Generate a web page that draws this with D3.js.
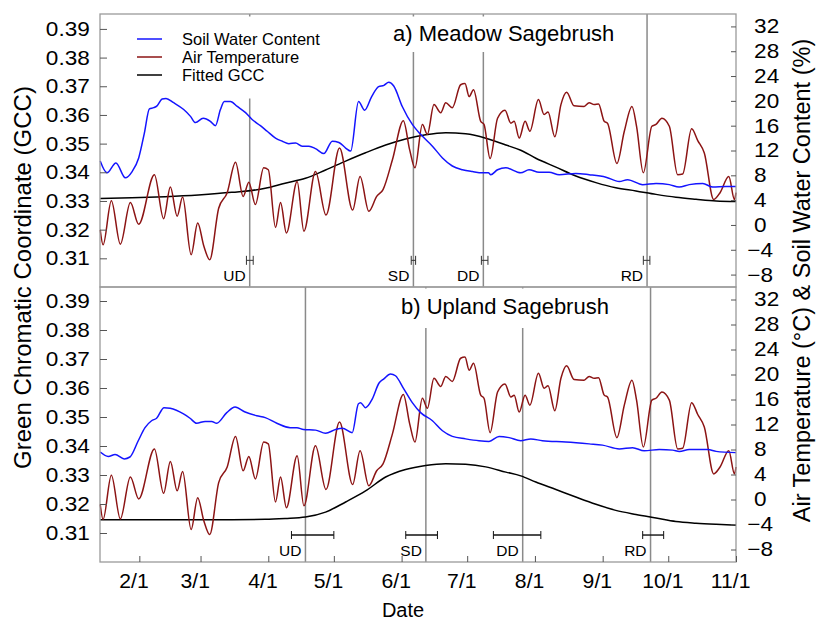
<!DOCTYPE html>
<html>
<head>
<meta charset="utf-8">
<script src="https://cdn.jsdelivr.net/npm/d3@7"></script>
<style>
  body { margin: 0; background: #fff; }
  svg { font-family: "Liberation Sans", Arial, sans-serif; }
</style>
</head>
<body>
<div id="chart"></div>
<script>
// Day of year (2015) and values

// Air temperature (same station for both panels), deg C
var tempDay = [14.1, 15.4, 19.2, 23.3, 27.9, 31.7, 38.9, 43.1, 46.2, 49.3, 51.8, 55.7, 58.7, 61.5, 64.2, 68.3, 72.2, 76.0, 79.5, 82.1,
  85.1, 88.9, 91.0, 94.3, 96.6, 99.3, 104.2, 107.3, 112.6, 117.4, 123.6, 129.6, 133.0, 137.0, 140.6, 143.5, 147.8, 152.8, 155.7, 158.1,
  161.5, 163.8, 166.8, 169.9, 172.2, 175.2, 179.0, 181.0, 182.9, 184.9, 188.2, 189.7, 192.5, 195.9, 199.3, 202.0, 203.5, 205.8, 208.5, 210.7,
  214.6, 217.2, 219.0, 222.1, 224.9, 227.5, 230.9, 235.5, 237.8, 240.1, 242.1, 244.7, 246.2, 250.5, 253.9, 257.4, 259.5, 262.6, 266.5, 268.4,
  271.1, 274.5, 278.3, 280.6, 284.7, 287.5, 290.5, 294.8, 297.7, 301.7, 304.3, 305];
var tempVal = [-0.8, -3.2, 3.9, -3.1, 3.6, 0.1, 8.1, 1.0, 6.1, 1.4, 4.5, -4.8, 0.3, -3.4, -5.6, 2.7, 5.2, 10.1, 4.6, 6.9,
  3.3, 9.2, 8.9, -0.4, 3.6, -1.3, 7.0, -1.0, 8.6, 1.6, 12.4, 2.4, 7.8, 2.2, 4.6, 5.7, 10.5, 16.8, 12.1, 9.2,
  16.2, 14.6, 19.4, 18.1, 19.7, 18.9, 22.6, 22.8, 20.7, 21.8, 16.7, 16.2, 10.7, 17.2, 18.5, 16.4, 16.7, 14.0, 16.7, 15.1,
  20.2, 17.8, 18.2, 14.2, 19.4, 21.4, 19.2, 19.1, 19.7, 19.4, 19.5, 16.7, 16.4, 9.9, 15.1, 19.1, 15.9, 8.4, 15.9, 16.2,
  17.2, 15.9, 8.1, 8.2, 15.5, 13.6, 11.6, 4.1, 5.2, 7.8, 4.1, 5.2];

// Soil water content, meadow (%)
var swcMeadowDay = [14.1, 17.2, 21.3, 25.6, 28.7, 31.7, 34.3, 36.6, 38.6, 40.1, 42.4, 44.2, 47.7, 52.3, 55.4, 57.7, 61.2, 64.5, 66.8, 69.1,
  70.9, 73.7, 76.8, 80.6, 83.6, 87.4, 90.5, 94.3, 97.4, 100.4, 103.5, 106.5, 109.6, 112.6, 116.4, 120.3, 123.3, 126.4, 128.7, 132.3,
  135.1, 138.3, 141.5, 143.9, 146.1, 148.4, 152.3, 156.9, 160.7, 166.1, 170.7, 175.2, 179.8, 184.4, 189.0, 191.7, 192.8, 195.9, 199.7, 206.5,
  210.3, 214.9, 219.5, 224.1, 231.7, 237.8, 245.5, 251.6, 255.4, 262.3, 268.4, 274.5, 279.0, 283.6, 289.8, 294.3, 300.4, 305];
var swcMeadowVal = [10.3, 8.4, 10.0, 7.6, 8.6, 10.8, 14.8, 18.7, 18.9, 19.2, 20.3, 20.4, 19.7, 18.6, 17.5, 16.5, 17.2, 16.7, 16.0, 18.6,
  19.9, 19.9, 19.1, 18.1, 17.0, 16.0, 15.1, 14.0, 13.5, 13.1, 13.2, 12.7, 12.7, 12.3, 11.5, 13.5, 13.3, 12.4, 11.9, 19.9,
  18.5, 20.7, 22.3, 22.5, 23.0, 22.4, 19.1, 16.2, 14.6, 12.7, 10.8, 9.5, 8.9, 8.6, 8.4, 8.4, 8.1, 8.9, 9.2, 8.4,
  8.9, 8.5, 8.5, 8.1, 8.3, 8.1, 7.7, 7.0, 7.3, 6.5, 6.7, 6.5, 6.1, 6.5, 6.7, 6.1, 6.2, 6.2];

// Soil water content, upland (%)
var swcUplandDay = [14.1, 17.8, 20.9, 25.1, 27.7, 31.5, 34.6, 37.6, 39.9, 43.3, 46.1, 52.2, 55.2, 58.2, 62.1, 65.1, 67.4, 72.0, 75.8, 80.4,
  85.7, 89.6, 94.9, 101.0, 104.1, 107.1, 112.6, 117.2, 121.8, 124.9, 129.4, 132.2, 133.2, 135.5, 138.6, 141.6, 143.9, 146.9, 149.2, 153.0,
  156.9, 160.7, 166.1, 170.7, 175.2, 181.3, 187.4, 192.0, 196.6, 201.2, 206.5, 211.1, 216.4, 227.1, 237.8, 243.9, 251.6, 257.7, 263.0, 269.9,
  276.0, 279.1, 283.6, 292.1, 295.9, 305];
var swcUplandVal = [7.6, 6.9, 7.2, 6.5, 6.8, 9.4, 11.5, 12.6, 13.0, 14.7, 14.6, 13.7, 13.0, 12.2, 12.5, 12.5, 12.2, 13.9, 14.8, 14.0,
  13.4, 13.1, 12.2, 11.5, 11.5, 11.2, 11.1, 10.6, 11.2, 11.4, 10.7, 15.3, 15.5, 14.7, 16.1, 18.6, 19.3, 20.1, 19.8, 17.7,
  15.5, 13.9, 12.6, 11.0, 10.1, 9.7, 9.4, 9.3, 10.1, 9.9, 9.4, 9.7, 9.4, 9.2, 8.9, 8.7, 8.1, 8.3, 7.8, 8.0,
  7.9, 7.7, 8.0, 8.0, 7.7, 7.5];

// Fitted GCC
var gccDay = [14.1, 28.5, 43.8, 59.0, 74.3, 89.6, 98.7, 108.0, 117.2, 126.4, 135.5, 144.7, 153.8, 163.0, 172.2,
  181.3, 190.5, 199.7, 206.5, 213.4, 222.6, 231.7, 240.9, 250.0, 259.2, 268.4, 277.5, 286.7, 295.9, 305];
var gccMeadow = [0.3309, 0.3311, 0.3315, 0.3321, 0.3330, 0.3344, 0.3362, 0.3379, 0.3408, 0.3439, 0.3468, 0.3495, 0.3516, 0.3531, 0.3538,
  0.3534, 0.3519, 0.3495, 0.3477, 0.3449, 0.3418, 0.3387, 0.3364, 0.3346, 0.3335, 0.3323, 0.3313, 0.3306, 0.3300, 0.3298];
var gccUpland = [0.3146, 0.3146, 0.3146, 0.3146, 0.3146, 0.3147, 0.3150, 0.3155, 0.3172, 0.3207, 0.3245, 0.3293, 0.3319, 0.3333, 0.3339,
  0.3337, 0.3328, 0.3310, 0.3297, 0.3276, 0.3250, 0.3224, 0.3199, 0.3178, 0.3164, 0.3152, 0.3140, 0.3134, 0.3130, 0.3127];

// Phenology dates (day of year) with uncertainty range
var phenoLabels = ['UD', 'SD', 'DD', 'RD'];
var meadowDate = [82.5, 157.4, 189.4, 264.3];
var meadowLo = [81.0, 156.4, 188.5, 262.6];
var meadowHi = [84.1, 158.4, 191.5, 265.6];
var uplandDate = [108.0, 163.1, 207.4, 265.9];
var uplandLo = [101.6, 153.9, 194.0, 262.3];
var uplandHi = [121.0, 168.4, 215.7, 271.9];

// Axis ticks
var gccTicks = [0.31, 0.32, 0.33, 0.34, 0.35, 0.36, 0.37, 0.38, 0.39];
var rightTicks = [-8, -4, 0, 4, 8, 12, 16, 20, 24, 28, 32];
var monthDays = [32, 60, 91, 121, 152, 182, 213, 244, 274, 305];
var monthLabels = ['2/1', '3/1', '4/1', '5/1', '6/1', '7/1', '8/1', '9/1', '10/1', '11/1'];

var blue = '#1414ff', red = '#8c1414', frameColor = '#9a9a9a';

var svg = d3.select('#chart').append('svg')
  .attr('width', 816)
  .attr('height', 621);

var x = d3.scaleLinear().domain([14, 305]).range([100, 736]);

var panels = [
  { top: 14, bottom: 287, gccMax: 0.3952, title: 'a) Meadow Sagebrush', titleX: 393, titleY: 41,
    box: [386, 16.5, 236, 35.5], gcc: gccMeadow, swcDay: swcMeadowDay, swcVal: swcMeadowVal,
    date: meadowDate, lo: meadowLo, hi: meadowHi, cap: 4.5, barW: 1, barColor: '#333' },
  { top: 287, bottom: 562, gccMax: 0.39483, title: 'b) Upland Sagebrush', titleX: 401, titleY: 314,
    box: [395, 288.5, 222, 39.5], gcc: gccUpland, swcDay: swcUplandDay, swcVal: swcUplandVal,
    date: uplandDate, lo: uplandLo, hi: uplandHi, cap: 4, barW: 1.4, barColor: '#111' }
];

panels.forEach(function(p, pi) {
  var yL = d3.scaleLinear().domain([0.30, p.gccMax]).range([p.bottom, p.top]);
  var yR = d3.scaleLinear().domain([-10, 34]).range([p.bottom, p.top]);
  var g = svg.append('g');

  // phenology lines
  g.selectAll('.pheno')
    .data(p.date)
    .enter()
    .append('line')
    .attr('x1', function(d) { return x(d); })
    .attr('x2', function(d) { return x(d); })
    .attr('y1', p.top)
    .attr('y2', p.bottom)
    .attr('stroke', '#8a8a8a')
    .attr('stroke-width', 1.5);

  // white boxes behind title / legend
  g.append('rect')
    .attr('x', p.box[0]).attr('y', p.box[1])
    .attr('width', p.box[2]).attr('height', p.box[3])
    .attr('fill', '#fff');
  if (pi === 0) {
    g.append('rect')
      .attr('x', 128).attr('y', 16.5)
      .attr('width', 200).attr('height', 82)
      .attr('fill', '#fff');
  }

  // error bars
  var yE = yL(0.3093);
  p.date.forEach(function(d, i) {
    var x0 = x(p.lo[i]), x1 = x(p.hi[i]);
    g.append('line').attr('x1', x0).attr('x2', x1).attr('y1', yE).attr('y2', yE)
      .attr('stroke', p.barColor).attr('stroke-width', p.barW);
    [x0, x1].forEach(function(xc) {
      g.append('line').attr('x1', xc).attr('x2', xc)
        .attr('y1', yE - p.cap).attr('y2', yE + p.cap)
        .attr('stroke', p.barColor).attr('stroke-width', 1);
    });
    g.append('text')
      .attr('x', x(d) - 4)
      .attr('y', yE + 20.5)
      .attr('text-anchor', 'end')
      .style('font-size', '15.5px')
      .text(phenoLabels[i]);
  });

  // curves
  var gccLine = d3.line()
    .x(function(d, i) { return x(gccDay[i]); })
    .y(function(d) { return yL(d); })
    .curve(d3.curveMonotoneX);
  var tempLine = d3.line()
    .x(function(d, i) { return x(tempDay[i]); })
    .y(function(d) { return yR(d); })
    .curve(d3.curveMonotoneX);
  var swcLine = d3.line()
    .x(function(d, i) { return x(p.swcDay[i]); })
    .y(function(d) { return yR(d); })
    .curve(d3.curveMonotoneX);

  g.append('path').attr('d', gccLine(p.gcc))
    .attr('fill', 'none').attr('stroke', '#000').attr('stroke-width', 1.5);
  g.append('path').attr('d', tempLine(tempVal))
    .attr('fill', 'none').attr('stroke', red).attr('stroke-width', 1.5);
  g.append('path').attr('d', swcLine(p.swcVal))
    .attr('fill', 'none').attr('stroke', blue).attr('stroke-width', 1.5);

  // frame
  g.append('rect')
    .attr('x', 100).attr('y', p.top)
    .attr('width', 636).attr('height', p.bottom - p.top)
    .attr('fill', 'none').attr('stroke', frameColor).attr('stroke-width', 1.3);

  // left axis
  var leftAxis = d3.axisLeft(yL)
    .tickValues(gccTicks)
    .tickFormat(d3.format('.2f'))
    .tickSizeInner(-7)
    .tickSizeOuter(0)
    .tickPadding(9);
  var la = g.append('g').attr('transform', 'translate(100,0)').call(leftAxis);
  la.select('.domain').remove();

  // right axis
  var rightAxis = d3.axisRight(yR)
    .tickValues(rightTicks)
    .tickSizeInner(-5)
    .tickSizeOuter(0)
    .tickPadding(16);
  var ra = g.append('g').attr('transform', 'translate(736,0)').call(rightAxis);
  ra.select('.domain').remove();
  ra.selectAll('text').attr('dx', function(d) { return d < 0 ? -6 : 0; });

  [la, ra].forEach(function(a) {
    a.selectAll('line').attr('stroke', '#555');
    a.selectAll('text')
      .attr('fill', '#000')
      .style('font-size', '20px')
      .attr('transform', 'scale(1.13,1)');
  });

  // title
  g.append('text')
    .attr('x', p.titleX)
    .attr('y', p.titleY)
    .style('font-size', '22px')
    .text(p.title);

  // bottom axis only on lower panel
  if (pi === 1) {
    var xAxis = d3.axisBottom(x)
      .tickValues(monthDays)
      .tickFormat(function(d, i) { return monthLabels[i]; })
      .tickSizeInner(-6)
      .tickSizeOuter(0)
      .tickPadding(12);
    var xa = g.append('g').attr('transform', 'translate(0,' + p.bottom + ')').call(xAxis);
    xa.select('.domain').remove();
    xa.selectAll('line').attr('stroke', '#555');
    xa.selectAll('text')
      .attr('fill', '#000')
      .attr('dx', -5.5)
      .style('font-size', '20px')
      .attr('transform', 'scale(1.06,1)');
  }
});

// Legend
var legendItems = ['Soil Water Content', 'Air Temperature', 'Fitted GCC'];
var legendColors = [blue, red, '#000'];
var legend = svg.selectAll('.legend')
  .data(legendItems)
  .enter()
  .append('g')
  .attr('class', 'legend')
  .attr('transform', function(d, i) { return 'translate(0,' + (39 + i * 18) + ')'; });
legend.append('line')
  .attr('x1', 137).attr('x2', 162)
  .attr('stroke', function(d, i) { return legendColors[i]; })
  .attr('stroke-width', 1.5);
legend.append('text')
  .attr('x', 182)
  .attr('y', 5.8)
  .style('font-size', '16.5px')
  .text(function(d) { return d; });

// Axis titles
svg.append('text')
  .attr('transform', 'translate(31,277.5) rotate(-90)')
  .attr('text-anchor', 'middle')
  .style('font-size', '24px')
  .text('Green Chromatic Coordinate (GCC)');
svg.append('text')
  .attr('transform', 'translate(809.5,280.5) rotate(-90)')
  .attr('text-anchor', 'middle')
  .style('font-size', '23.5px')
  .text('Air Temperature (°C) & Soil Water Content (%)');
svg.append('text')
  .attr('x', 403)
  .attr('y', 617)
  .attr('text-anchor', 'middle')
  .style('font-size', '20px')
  .text('Date');
</script>
</body>
</html>
